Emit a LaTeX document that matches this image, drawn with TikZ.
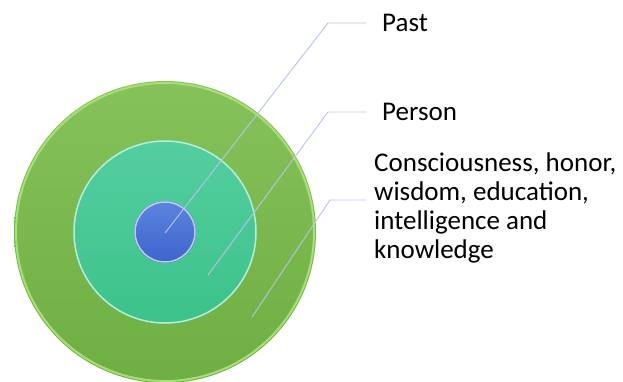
\documentclass[tikz,border=0pt]{standalone}
\usepackage{fontspec}
\setmainfont{Carlito}
\usepackage{tikz}
\definecolor{ringgreen}{RGB}{110,174,66}
\definecolor{ringgreentop}{RGB}{134,194,90}
\definecolor{ringrim}{RGB}{170,222,120}
\definecolor{midteal}{RGB}{60,194,138}
\definecolor{midtealtop}{RGB}{84,206,160}
\definecolor{midrim}{RGB}{190,235,215}
\definecolor{coreblue}{RGB}{60,100,204}
\definecolor{corebluetop}{RGB}{92,132,222}
\definecolor{corerim}{RGB}{190,205,235}
\definecolor{leader}{RGB}{185,195,232}
\tikzset{
  label/.style={anchor=west, font=\fontsize{27}{29}\selectfont, inner sep=0pt},
  pointer/.style={leader, line width=0.9pt}
}
\begin{document}
\begin{tikzpicture}[x=1pt,y=-1pt]
    \useasboundingbox (0,0) rectangle (623,381);
    \coordinate (c) at (165,232);
    \shade[top color=ringgreentop, bottom color=ringgreen] (c) circle (151);
    \draw[ringrim, line width=2pt] (c) circle (149);
    \shade[top color=midtealtop, bottom color=midteal] (c) circle (92);
    \draw[midrim, line width=1.5pt] (c) circle (91);
    \shade[top color=corebluetop, bottom color=coreblue] (c) circle (31);
    \draw[corerim, line width=1.5pt] (c) circle (30);
    \node[label] (past) at (382,23) {Past};
    \node[label] (person) at (382,112) {Person};
    \node[label, align=left] (traits) at (374,208) {Consciousness, honor,\\wisdom, education,\\intelligence and\\knowledge};
    \coordinate (p1) at (165,233);
    \coordinate (p2) at (208,275);
    \coordinate (p3) at (252,317);
    \draw[pointer] (p1) -- (328,23) -- (366,23);
    \draw[pointer] (p2) -- (328,112) -- (366,112);
    \draw[pointer] (p3) -- (330,200) -- (366,200);
\end{tikzpicture}
\end{document}
